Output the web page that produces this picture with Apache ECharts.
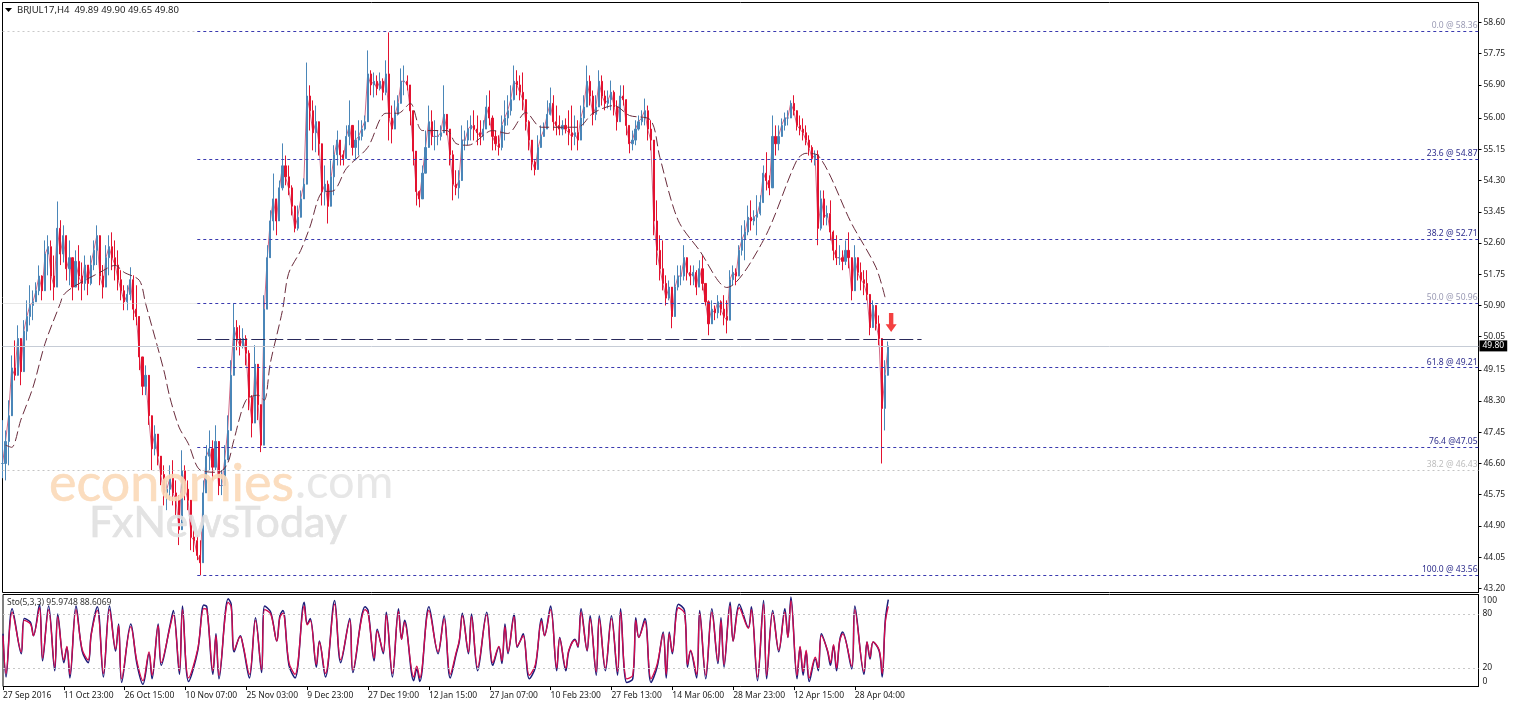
<!DOCTYPE html>
<html><head><meta charset="utf-8">
<style>html,body{margin:0;padding:0;background:#fff}#c{width:1515px;height:706px}</style>
<script src="https://cdn.jsdelivr.net/npm/echarts@6/dist/echarts.min.js"></script>
</head><body><div id="c"></div>
<script>
const titleText = 'BRJUL17,H4  49.89 49.90 49.65 49.80';
const stoText = 'Sto(5,3,3) 95.9748 88.6069';
const priceTicks = ['58.60','57.75','56.90','56.00','55.15','54.30','53.45','52.60','51.75','50.90','50.05','49.15','48.30','47.45','46.60','45.75','44.90','44.05','43.20'];
const timeTicks = ['27 Sep 2016','11 Oct 23:00','26 Oct 15:00','10 Nov 07:00','25 Nov 03:00','9 Dec 23:00','27 Dec 19:00','12 Jan 15:00','27 Jan 07:00','10 Feb 23:00','27 Feb 13:00','14 Mar 06:00','28 Mar 23:00','12 Apr 15:00','28 Apr 04:00'];
const highs = [
47.78,47.5,48.32,49.54,49.95,50.36,49.68,50.5,51.04,51.45,51.31,51.53,51.99,51.72,52.67,52.81,52.67,52.26,53.73,53.22,
53.08,52.81,52.67,52.0,52.4,52.54,52.07,52.26,52.0,52.26,52.67,53.08,52.54,52.0,52.54,52.81,52.89,52.67,52.4,51.86,
51.45,51.45,51.94,51.72,51.45,50.5,49.41,49.27,48.46,47.78,47.64,47.37,46.69,46.55,46.14,46.55,46.69,46.14,45.74,46.96,
46.55,46.14,45.06,44.78,44.65,44.51,46.14,47.1,47.5,47.23,47.64,46.55,46.42,47.1,47.91,49.41,50.96,50.5,50.36,50.28,
50.09,49.68,48.46,49.82,49.0,47.91,51.18,52.54,53.49,54.49,53.76,54.3,55.31,54.98,54.71,54.17,53.62,53.62,54.03,54.36,
57.51,56.89,56.48,56.34,55.8,55.26,54.71,54.3,54.85,55.26,55.66,55.39,55.12,55.8,56.48,55.53,55.66,55.94,55.94,56.07,
57.84,57.3,57.24,57.16,57.24,57.08,57.57,58.33,56.34,56.48,56.62,57.35,57.43,57.16,56.89,55.8,54.71,54.03,54.71,55.66,
56.34,56.21,55.94,55.66,55.8,56.89,55.8,55.66,55.12,54.58,54.58,55.8,55.66,55.94,56.07,56.21,56.07,55.94,55.94,56.62,
56.75,56.07,55.66,55.53,56.07,56.48,56.62,56.89,57.43,57.3,57.16,57.24,56.48,55.94,55.26,54.85,55.53,55.8,55.88,56.48,
56.83,56.62,56.34,56.07,55.94,55.99,56.21,56.34,56.07,55.94,56.34,56.62,57.43,57.16,56.75,56.62,57.3,57.16,56.75,56.75,
57.02,56.75,56.48,56.89,56.89,56.21,55.8,55.66,55.94,56.07,56.21,56.53,56.34,55.94,55.12,53.76,52.81,52.67,51.72,51.58,
51.31,51.72,51.99,51.99,52.54,52.13,51.99,51.99,51.86,52.13,52.26,51.45,51.04,51.04,50.9,51.18,51.04,51.18,51.04,51.86,
51.99,51.91,52.54,53.08,53.22,53.62,53.76,53.49,53.9,53.9,54.71,55.07,54.44,56.07,55.8,55.8,55.99,56.15,56.21,56.48,
56.62,56.21,56.07,55.99,55.8,55.53,55.26,55.12,55.12,54.03,54.03,53.62,53.76,52.94,52.81,52.54,52.4,52.67,52.89,52.07,
52.54,52.13,52.07,51.86,51.86,51.09,51.04,50.77,50.63,49.82,49.41,49.92];
const lows = [
46.2,46.14,46.55,48.46,48.86,49.27,48.73,49.41,49.95,50.36,50.5,51.04,51.18,51.04,51.45,51.72,51.31,51.04,52.13,52.0,
52.07,51.58,51.45,51.04,51.45,51.31,51.04,51.31,51.18,51.45,51.86,52.0,51.45,51.09,51.45,51.72,51.86,51.58,51.31,51.04,
50.77,50.77,51.04,50.5,50.36,49.14,48.46,48.46,47.65,46.42,46.82,46.55,46.01,45.46,45.33,45.6,45.46,45.19,44.38,45.74,
45.6,45.33,44.24,44.19,43.97,43.56,44.51,45.87,46.42,46.14,46.42,45.74,45.74,46.14,46.96,47.91,49.19,49.68,49.54,49.73,
49.27,48.05,47.31,48.46,47.78,46.91,48.32,51.31,52.4,52.94,52.81,53.76,54.03,54.17,53.9,53.35,52.89,52.94,53.49,53.9,
55.53,55.66,55.12,55.07,54.98,53.62,53.62,53.13,53.9,53.9,54.71,54.71,54.71,54.98,55.26,54.98,54.85,54.98,55.39,55.66,
56.07,56.62,56.56,56.62,56.75,56.48,56.62,55.39,55.31,55.8,56.07,56.48,56.62,56.75,55.8,54.71,53.62,53.57,54.03,54.71,
55.39,55.26,55.12,55.26,55.39,55.8,55.53,54.71,53.76,53.9,53.81,54.85,55.12,55.26,55.39,55.39,55.26,55.26,55.39,55.94,
55.8,55.12,55.12,54.98,55.12,55.39,55.8,56.07,56.48,56.62,56.48,56.21,55.66,55.12,54.58,54.44,54.98,55.26,55.53,55.8,
56.07,55.66,55.53,55.53,55.53,55.58,55.26,55.12,55.26,55.12,55.66,55.8,56.48,56.34,55.8,55.94,56.48,56.34,56.21,56.26,
56.21,56.07,55.66,56.21,56.34,55.53,55.04,55.12,55.26,55.66,55.8,55.8,55.39,55.12,52.81,52.0,51.58,51.31,50.9,51.04,
50.28,51.04,51.31,51.45,51.58,51.58,51.45,51.45,51.18,51.45,51.31,50.9,50.09,50.5,50.5,50.55,50.63,50.36,50.14,51.18,
51.45,51.45,52.07,52.26,52.13,52.81,52.94,53.08,52.81,53.35,53.9,54.03,53.9,54.85,54.98,55.12,55.53,55.66,55.8,56.07,
56.07,55.66,55.53,55.39,55.26,54.98,54.79,54.71,52.54,52.94,53.08,53.08,52.67,52.13,52.0,52.0,51.86,52.0,51.91,51.04,
51.72,51.58,51.31,51.18,51.04,50.09,50.5,50.22,49.82,46.6,47.5,49.41];
const closes = [
46.6,47.2,47.9,49.2,49.0,50.0,49.1,50.2,50.6,50.9,51.0,51.3,51.7,51.3,52.3,52.5,51.7,51.4,53.0,52.3,
52.8,51.9,52.2,51.4,52.1,51.7,51.5,52.0,51.5,52.0,52.4,52.8,51.7,51.4,52.2,52.5,52.2,52.0,51.6,51.3,
51.0,51.2,51.6,50.8,50.6,49.5,48.7,49.0,47.9,47.0,47.4,46.8,46.3,45.8,45.9,46.2,45.8,45.6,44.8,46.4,
45.9,45.6,44.6,44.5,44.1,43.9,45.8,46.8,47.0,46.5,47.2,46.0,46.0,46.7,47.5,49.0,50.3,50.0,49.8,50.0,
49.6,48.4,47.7,49.3,48.2,47.1,50.8,52.2,53.2,53.8,53.2,54.1,54.7,54.4,54.1,53.6,53.0,53.3,53.8,54.2,
56.6,56.2,55.6,55.9,55.3,54.0,54.2,53.6,54.4,55.0,55.4,55.0,54.9,55.5,55.8,55.2,55.4,55.5,55.7,55.9,
57.2,56.9,57.0,56.8,57.0,56.7,57.2,56.0,55.7,56.1,56.4,57.0,57.0,56.9,56.2,55.1,54.0,53.8,54.5,55.2,
55.9,55.5,55.5,55.5,55.6,56.1,55.7,55.0,54.2,54.1,54.3,55.4,55.4,55.7,55.8,55.7,55.6,55.5,55.7,56.3,
56.0,55.5,55.3,55.2,55.8,56.0,56.2,56.5,57.0,56.9,56.7,56.5,55.9,55.4,54.8,54.6,55.2,55.5,55.7,56.1,
56.4,55.9,55.8,55.7,55.8,55.7,55.6,55.5,55.6,55.4,56.0,56.3,57.0,56.6,56.1,56.3,57.0,56.6,56.4,56.5,
56.7,56.3,55.9,56.6,56.5,55.8,55.3,55.4,55.7,55.9,56.0,56.2,55.7,55.4,53.2,52.4,51.9,51.5,51.1,51.4,
50.6,51.4,51.7,51.7,52.2,51.8,51.7,51.8,51.4,51.9,51.5,51.0,50.4,50.8,50.7,51.0,50.8,50.6,50.5,51.6,
51.8,51.7,52.4,52.7,52.9,53.3,53.2,53.3,53.4,53.7,54.5,54.3,54.1,55.5,55.3,55.5,55.8,56.0,56.0,56.4,
56.2,55.8,55.7,55.6,55.4,55.2,54.9,55.0,53.0,53.8,53.3,53.4,52.9,52.4,52.2,52.2,52.1,52.4,52.2,51.3,
52.2,51.8,51.6,51.5,51.2,50.3,50.9,50.4,50.0,48.1,49.0,49.8];
const maIdx = [1,3,6,10,14,19,20,23,32,37,40,45,47,53,55,58,61,65,71,74,76,80,84,86,88,92,94,98,101,105,109,113,120,126,130,134,138,146,149,153,161,166,172,177,189,194,201,206,213,216,222,229,238,250,261,264,268,279,287,290];
const maValues = [47.1,47.04,47.78,48.67,49.87,50.96,51.18,51.39,51.8,51.99,51.8,51.58,50.96,49.14,48.4,47.59,47.15,46.42,46.36,46.61,47.23,48.32,48.46,48.32,49.33,50.77,51.77,52.4,53.03,53.98,54.03,54.63,55.2,56.13,56.13,56.4,55.66,55.66,55.31,55.26,55.66,55.58,56.15,55.75,55.75,56.13,56.34,56.07,55.94,54.93,53.22,52.4,51.39,52.67,54.85,55.04,54.98,53.13,51.94,51.12];
const stoIdx = [0,1,3,6,7,9,10,12,13,15,17,18,20,21,22,24,26,28,29,31,33,35,37,38,39,42,44,46,48,49,51,52,55,56,58,59,61,64,66,67,69,70,71,74,75,76,78,79,81,83,85,86,88,90,91,92,94,96,99,100,101,103,104,106,109,111,114,115,119,120,122,123,125,126,128,130,131,132,135,136,137,140,143,145,147,149,
150,151,153,154,156,159,161,163,164,165,166,168,169,170,171,173,175,177,178,180,182,183,185,186,188,189,190,192,193,195,196,198,200,202,203,205,207,208,209,211,213,215,217,218,219,220,222,224,225,226,228,229,231,233,235,236,237,239,240,242,245,246,248,250,251,253,255,257,258,259,261,262,263,264,265,267,268,269,271,272,273,274,275,276,279,280,283,284,285,286,288,289,290,291];
const stoMain = [58,10,86,36,75,71,56,91,28,89,17,80,26,43,9,89,39,26,58,88,10,89,39,69,4,69,25,2,36,8,69,23,69,84,13,89,5,39,90,88,13,58,8,97,91,38,56,43,9,76,15,89,82,50,78,84,23,9,93,69,75,21,50,10,95,26,75,15,88,84,28,63,36,82,10,86,52,73,6,19,5,88,36,78,9,36,
50,81,36,80,17,82,23,43,25,69,36,80,43,50,58,8,21,75,56,89,17,54,17,39,52,43,86,39,78,12,78,17,78,12,86,4,8,76,54,75,4,21,60,9,60,36,91,84,21,39,9,84,8,86,25,76,21,93,50,91,65,88,6,95,8,84,38,86,54,99,8,43,12,38,5,30,17,58,39,23,45,17,50,60,19,89,13,49,30,49,39,10,73,96];
const stoSignal = [56,14,82,38,73,69,56,87,31,85,21,77,29,44,13,85,41,29,57,84,14,85,41,67,8,66,28,6,38,12,67,26,67,80,17,85,9,41,86,85,17,56,12,93,88,40,55,44,13,73,18,85,80,50,76,81,26,13,89,68,73,24,49,14,91,29,73,18,85,81,31,61,38,79,14,83,52,71,10,22,9,84,38,75,13,38,
51,78,38,77,21,79,26,44,28,66,38,77,44,50,56,12,24,72,56,85,20,53,20,40,51,44,82,40,75,16,75,20,75,16,82,8,12,73,54,72,8,24,58,13,58,38,87,81,24,40,13,81,12,82,28,73,24,89,50,87,64,85,10,91,12,81,40,82,54,95,12,44,16,40,9,32,20,56,40,26,46,20,50,58,22,85,16,49,32,49,40,14,70,88.6];
const fibValues = [58.36,54.87,52.71,50.96,49.21,47.05,43.56];
const fibLabels = ['0.0 @ 58.36','23.6 @ 54.87','38.2 @ 52.71','50.0 @ 50.96','61.8 @ 49.21','76.4 @47.05','100.0 @ 43.56'];
const greyLevelValue = 46.43, greyLevelLabel = '38.2 @ 46.43';
const supportValue = 49.97, bidValue = 49.80;

const CAT_COUNT = 486, STEP = 20, FIB_START = 64, SUPPORT_END = 302, LAST = CAT_COUNT - 1;
const categories = Array.from({length: CAT_COUNT}, (_, i) => (i % STEP === 0 && timeTicks[i / STEP]) || '');
const isTick = i => i % STEP === 0 && i / STEP < timeTicks.length;
const FONT = '"Noto Sans"';
const candles = closes.map((c, i) => [i ? closes[i - 1] : c, c, lows[i], highs[i]]);
const seg = (a, b, v, extra) => [Object.assign({coord: [a, v]}, extra || {}), {coord: [b, v]}];
const muted = {0: '#9a9ab4', 3: '#9a9ab4'};

const chart = echarts.init(document.getElementById('c'), null, {renderer: 'canvas'});
chart.setOption({
  animation: false,
  backgroundColor: '#fff',
  textStyle: {fontFamily: FONT},
  title: [
    {text: titleText, left: 17, top: 5, padding: 0, textStyle: {fontSize: 9.5, fontWeight: 'normal', color: '#222', fontFamily: FONT}},
    {text: stoText, left: 7, top: 598, padding: 0, textStyle: {fontSize: 8.5, fontWeight: 'normal', color: '#333', fontFamily: FONT}}
  ],
  grid: [
    {left: 2.5, top: 2.5, width: 1476, height: 590, show: true, borderColor: '#000', borderWidth: 1, backgroundColor: 'transparent'},
    {left: 2.5, top: 594.5, width: 1476, height: 92, show: true, borderColor: '#000', borderWidth: 1, backgroundColor: 'transparent'}
  ],
  xAxis: [
    {gridIndex: 0, type: 'category', data: categories, boundaryGap: false, axisLine: {show: false}, axisTick: {show: false}, axisLabel: {show: false}},
    {gridIndex: 1, type: 'category', data: categories, boundaryGap: false, axisLine: {show: false},
     axisTick: {show: true, length: 4, interval: i => isTick(i), lineStyle: {color: '#000'}},
     axisLabel: {show: true, interval: i => isTick(i), align: 'left', margin: 5, fontSize: 8.5, color: '#222', fontFamily: FONT}}
  ],
  yAxis: [
    {gridIndex: 0, type: 'value', position: 'right', min: 43.09, max: 59.144, splitLine: {show: false},
     axisLine: {show: true, lineStyle: {color: '#000'}},
     axisTick: {show: true, length: 3, inside: false, customValues: priceTicks.map(Number), lineStyle: {color: '#000'}},
     axisLabel: {show: true, margin: 5, fontSize: 8.5, color: '#222', fontFamily: FONT, customValues: priceTicks.map(Number), formatter: v => v.toFixed(2)}},
    {gridIndex: 1, type: 'value', position: 'right', min: -0.5, max: 101.7, splitLine: {show: false},
     axisLine: {show: true, lineStyle: {color: '#000'}}, axisTick: {show: false},
     axisLabel: {show: true, margin: 4, fontSize: 8.5, color: '#222', fontFamily: FONT, customValues: [0, 20, 80, 100], verticalAlignMinLabel: 'bottom', verticalAlignMaxLabel: 'top'}}
  ],
  series: [
    {name: 'levels', type: 'line', xAxisIndex: 0, yAxisIndex: 0, data: [], silent: true, z: 2,
     markLine: {silent: true, symbol: 'none', animation: false, precision: 2, data: [
       seg(0, FIB_START, fibValues[0], {lineStyle: {color: '#c9c9c9', type: [2, 3], width: 1}, label: {show: false}}),
       seg(0, FIB_START, fibValues[3], {lineStyle: {color: '#cfcfcf', type: [1, 1], width: 1}, label: {show: false}}),
       seg(0, LAST, bidValue, {lineStyle: {color: '#c6ccd6', type: 'solid', width: 1}, label: {show: true, position: 'end', distance: 1, formatter: '49.80', color: '#fff', backgroundColor: '#000', padding: [1, 3, 1, 3], fontSize: 8.5, fontFamily: FONT}}),
       seg(0, LAST, greyLevelValue, {lineStyle: {color: '#c4c4c4', type: [2, 3], width: 1}, label: {show: true, position: 'insideEndTop', distance: 1, formatter: greyLevelLabel, color: '#bdbdbd', fontSize: 8.5, fontFamily: FONT}}),
       ...fibValues.map((v, k) => seg(FIB_START, LAST, v, {
         lineStyle: {color: '#3a3ab0', type: [3, 3], width: 1},
         label: {show: true, position: 'insideEndTop', distance: 1, formatter: fibLabels[k], color: muted[k] || '#2e2e8c', fontSize: 8.5, fontFamily: FONT}})),
       seg(FIB_START, SUPPORT_END, supportValue, {lineStyle: {color: '#2a2a5c', type: [14, 4], width: 1}, label: {show: false}})
     ]}},
    {name: 'price', type: 'candlestick', xAxisIndex: 0, yAxisIndex: 0, data: candles, barWidth: 1.6, z: 3,
     itemStyle: {color: '#4a86b8', color0: '#e3122f', borderColor: '#4a86b8', borderColor0: '#e3122f', borderWidth: 1}},
    {name: 'trace', type: 'line', xAxisIndex: 0, yAxisIndex: 0, data: closes, showSymbol: false, z: 3,
     lineStyle: {color: '#b81a48', width: 1, opacity: 0.65}},
    {name: 'ma', type: 'line', xAxisIndex: 0, yAxisIndex: 0, data: maIdx.map((x, k) => [x, maValues[k]]), showSymbol: false, z: 4, smooth: 0.3,
     lineStyle: {color: '#6a2c3c', width: 1, type: [10, 4]}},
    {name: 'arrow', type: 'scatter', xAxisIndex: 0, yAxisIndex: 0, data: [[292, 50.44]], z: 5,
     symbol: 'path://M3,0 H7 V9 H10 L5,15 L0,9 H3 Z', symbolSize: [11, 19], itemStyle: {color: '#f01010'}},
    {name: 'stoLevels', type: 'line', xAxisIndex: 1, yAxisIndex: 1, data: [], silent: true, z: 2,
     markLine: {silent: true, symbol: 'none', animation: false, label: {show: false}, lineStyle: {color: '#c8c8c8', type: [2, 3], width: 1},
       data: [seg(0, LAST, 80), seg(0, LAST, 20)]}},
    {name: 'stoMain', type: 'line', xAxisIndex: 1, yAxisIndex: 1, data: stoIdx.map((x, k) => [x, stoMain[k]]), showSymbol: false, z: 3, smooth: 0.35,
     lineStyle: {color: '#1c1c78', width: 1.5}},
    {name: 'stoSignal', type: 'line', xAxisIndex: 1, yAxisIndex: 1, data: stoIdx.map((x, k) => [x, stoSignal[k]]), showSymbol: false, z: 4, smooth: 0.35,
     lineStyle: {color: '#d40a4c', width: 1.3}}
  ],
  graphic: [
    {type: 'polygon', z: 100, shape: {points: [[5, 8], [12, 8], [8.5, 12]]}, style: {fill: '#000'}},
    {type: 'text', z: 100, x: 49, y: 458, style: {text: 'economies', font: '52px Lato', fill: '#fbd9b8', stroke: '#fbd9b8', lineWidth: 0.6, opacity: 0.9}},
    {type: 'text', z: 100, x: 295, y: 459, style: {text: '.com', font: '47px Lato', fill: '#e4e4e4', opacity: 0.9}},
    {type: 'text', z: 100, x: 89, y: 502, style: {text: 'FxNewsToday', font: '43px Lato', fill: '#e0e0e0', stroke: '#e0e0e0', lineWidth: 0.6, opacity: 0.9}}
  ]
});
</script></body></html>
